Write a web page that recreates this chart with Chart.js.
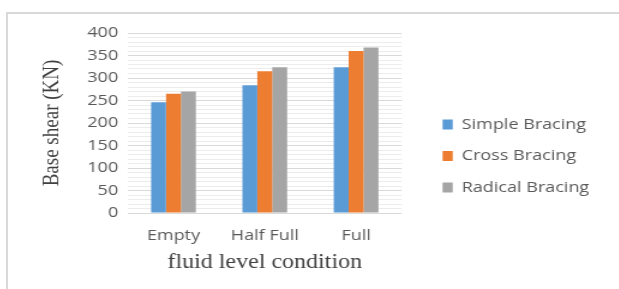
<!DOCTYPE html>
<html>
<head>
<meta charset="utf-8">
<script src="https://cdn.jsdelivr.net/npm/chart.js@4"></script>
<style>
  html, body { margin: 0; padding: 0; background: #fff; }
  body { width: 619px; height: 289px; position: relative; overflow: hidden; }
  /* frame: only top and left edges are visible in the picture */
  #frame { position: absolute; left: 6px; top: 12px; width: 613px; height: 277px;
           border-top: 2px solid #d9d9d9; border-left: 2px solid #d9d9d9; box-sizing: border-box; }
  /* the original is stretched sideways, so the canvas is too */
  #wrap { position: absolute; left: 9px; top: 15px; width: 503px; height: 272px;
          transform: scaleX(1.2); transform-origin: 0 0; }
</style>
</head>
<body>
<div id="frame"></div>
<div id="wrap"><canvas id="shearChart" width="503" height="272"></canvas></div>
<script>
// data
const categories = ['Empty', 'Half Full', 'Full'];
const simpleBracing = [246, 284, 324];
const crossBracing = [265, 315, 360];
const radicalBracing = [270, 324, 368];
const seriesNames = ['Simple Bracing', 'Cross Bracing', 'Radical Bracing'];

const tickColor = '#595959';

// extra right padding makes room between plot and legend,
// then the legend is moved back right and a bit up
const legendShift = {
    id: 'legendShift',
    afterLayout(chart) {
        const lg = chart.legend;
        if (!lg) return;
        lg.left += 17.5;
        lg.right += 17.5;
        lg.top -= 4;
        lg.bottom -= 4;
    }
};

function drawChart() {
    new Chart(document.getElementById('shearChart'), {
        type: 'bar',
        data: {
            labels: categories,
            datasets: [
                { label: seriesNames[0], data: simpleBracing, backgroundColor: '#5b9bd5' },
                { label: seriesNames[1], data: crossBracing, backgroundColor: '#ed7d31' },
                { label: seriesNames[2], data: radicalBracing, backgroundColor: '#a5a5a5' }
            ]
        },
        options: {
            responsive: false,
            animation: false,
            devicePixelRatio: 1,
            datasets: {
                bar: { categoryPercentage: 0.49, barPercentage: 1.0 }
            },
            layout: { padding: { left: 10, top: 18, right: 27, bottom: 0 } },
            plugins: {
                tooltip: { enabled: false },
                legend: {
                    position: 'right',
                    maxWidth: 200,
                    labels: {
                        boxWidth: 8.5,
                        boxHeight: 10,
                        padding: 16.5,
                        color: tickColor,
                        font: { family: 'Open Sans', size: 15 }
                    }
                }
            },
            scales: {
                x: {
                    grid: { display: false },
                    border: { display: false },
                    ticks: { color: tickColor, padding: 6, font: { family: 'Open Sans', size: 15 } },
                    title: {
                        display: true,
                        text: 'fluid level condition',
                        color: '#404040',
                        padding: { top: 12, bottom: 12 },
                        font: { family: 'Liberation Serif', size: 20 }
                    },
                    afterFit: (scale) => { scale.height = 74; }
                },
                y: {
                    min: 0,
                    max: 400,
                    border: { display: false },
                    grid: {
                        color: (c) => (c.tick && c.tick.value % 50 === 0) ? '#d9d9d9' : '#ececec',
                        drawTicks: false
                    },
                    ticks: {
                        stepSize: 10,
                        autoSkip: false,
                        padding: 8,
                        color: tickColor,
                        font: { family: 'Open Sans', size: 15 },
                        callback: (v) => (v % 50 === 0 ? v : '')
                    },
                    title: {
                        display: true,
                        text: 'Base shear (KN)',
                        color: '#404040',
                        padding: { top: 15, bottom: 0 },
                        font: { family: 'Liberation Serif', size: 19 }
                    },
                    afterFit: (scale) => { scale.width = 89; }
                }
            }
        },
        plugins: [legendShift]
    });
}

// make sure the fonts are ready before the legend gets measured
Promise.all([
    document.fonts.load('15px "Open Sans"'),
    document.fonts.load('20px "Liberation Serif"')
]).then(drawChart, drawChart);
</script>
</body>
</html>
